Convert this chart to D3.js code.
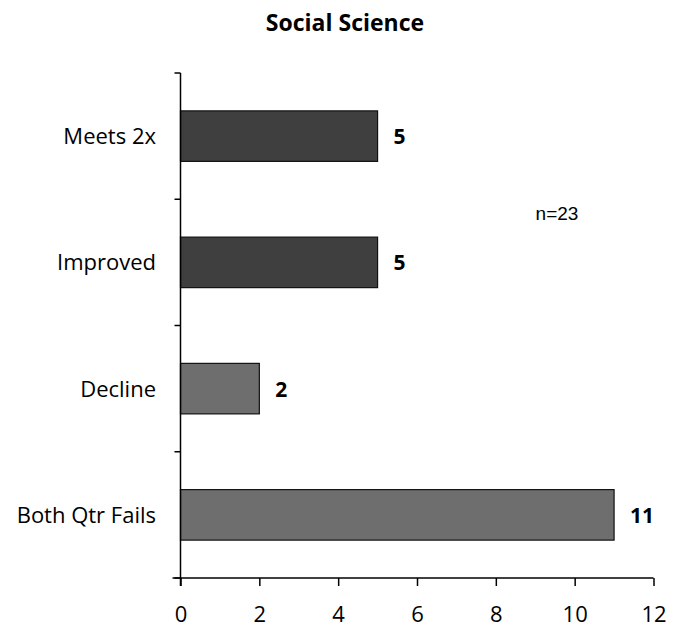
<!DOCTYPE html>
<html><head><meta charset="utf-8">
<script src="https://cdn.jsdelivr.net/npm/d3@7"></script>
<style>body{margin:0;background:#fff}svg{display:block}</style>
</head><body><svg id="c" width="675" height="630"></svg>
<script>
const categories = ["Meets 2x", "Improved", "Decline", "Both Qtr Fails"];
const values = [5, 5, 2, 11];
const barColors = ["#3f3f3f", "#3f3f3f", "#6e6e6e", "#6e6e6e"];
const xTicks = [0, 2, 4, 6, 8, 10, 12];
const title = "Social Science";
const note = "n=23";

const svg = d3.select("#c");
const font = "'Open Sans', Lato, sans-serif";
const x = d3.scaleLinear().domain([0, 12]).range([180.5, 653.5]);
const y = d3.scaleBand().domain(categories).range([73, 578]).paddingInner(0.6).paddingOuter(0.3);
const yb = d3.scaleBand().domain(categories).range([73, 578]);

svg.append("text").attr("x", 345).attr("y", 31).attr("text-anchor", "middle")
  .attr("font-family", font).attr("font-weight", "bold").attr("font-size", 23).text(title);

// bars
svg.selectAll("rect.bar").data(categories).join("rect").attr("class", "bar")
  .attr("x", x(0)).attr("y", d => y(d)).attr("width", (d, i) => x(values[i]) - x(0))
  .attr("height", y.bandwidth()).attr("fill", (d, i) => barColors[i])
  .attr("stroke", "#111").attr("stroke-width", 1.2);

// value labels
svg.selectAll("text.val").data(categories).join("text").attr("class", "val")
  .attr("x", (d, i) => x(values[i]) + 16).attr("y", d => y(d) + y.bandwidth() / 2 + 8)
  .attr("font-family", font).attr("font-weight", "bold")
  .attr("font-size", 21).text((d, i) => values[i]);

// y axis
const yAxis = svg.append("g");
yAxis.append("line").attr("x1", x(0)).attr("x2", x(0)).attr("y1", 73).attr("y2", 586)
  .attr("stroke", "#000").attr("stroke-width", 1.5);
const bounds = categories.map(d => yb(d)).concat([578]);
yAxis.selectAll("line.t").data(bounds).join("line").attr("class", "t")
  .attr("x1", x(0) - 6).attr("x2", x(0)).attr("y1", d => d).attr("y2", d => d)
  .attr("stroke", "#000").attr("stroke-width", 1.5);
yAxis.selectAll("text").data(categories).join("text")
  .attr("x", 156).attr("y", d => yb(d) + yb.bandwidth() / 2 + 8)
  .attr("text-anchor", "end").attr("font-family", font).attr("font-size", 22).text(d => d);

// x axis
const xAxis = d3.axisBottom(x).tickValues(xTicks).tickSize(8).tickSizeOuter(0).tickPadding(20);
const gx = svg.append("g").attr("transform", "translate(0,578)").call(xAxis);
gx.select(".domain").attr("stroke-width", 1.5).attr("d", `M${x(0) - 8},0H${x(12)}`);
gx.selectAll(".tick line").attr("stroke-width", 1.5);
gx.selectAll("text").attr("font-family", font).attr("font-size", 22).attr("fill", "#000");

svg.append("text").attr("x", 557).attr("y", 220).attr("text-anchor", "middle")
  .attr("font-family", "'Liberation Sans', Arial, sans-serif").attr("font-size", 19).text(note);
</script></body></html>
